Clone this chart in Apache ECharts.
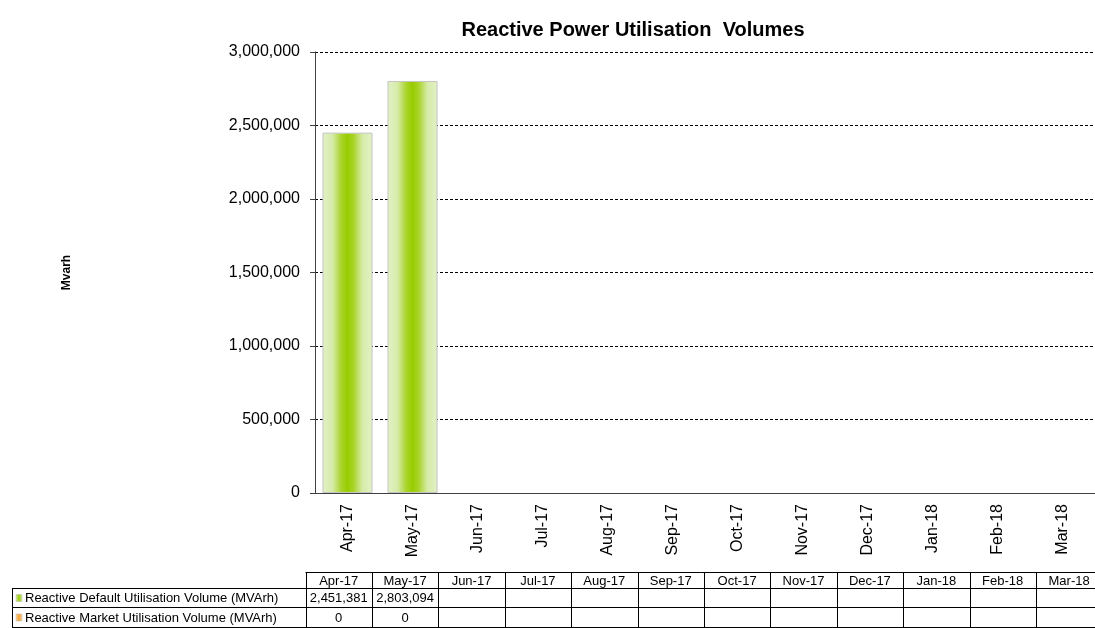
<!DOCTYPE html>
<html>
<head>
<meta http-equiv="Content-Type" content="text/html; charset=utf-8" />
<title>Reactive Power Utilisation Volumes</title>
<style>
  body, html { padding: 0; margin: 0; background: #fff; }
</style>
</head>
<body>
<div id="container" style="width: 1095px; height: 628px"></div>
<script src="https://cdn.jsdelivr.net/npm/echarts@6/dist/echarts.min.js"></script>
<script>
var months = ['Apr-17', 'May-17', 'Jun-17', 'Jul-17', 'Aug-17', 'Sep-17', 'Oct-17', 'Nov-17', 'Dec-17', 'Jan-18', 'Feb-18', 'Mar-18'];
var defaultVolume = [2451381, 2803094, null, null, null, null, null, null, null, null, null, null];
var marketVolume = [0, 0, null, null, null, null, null, null, null, null, null, null];
var seriesNames = ['Reactive Default Utilisation Volume (MVArh)', 'Reactive Market Utilisation Volume (MVArh)'];
var yTicks = [0, 500000, 1000000, 1500000, 2000000, 2500000, 3000000];

var font = '"Liberation Sans", Arial, sans-serif';

function fmt(v) {
  return v == null ? '' : String(v).replace(/\B(?=(\d{3})+(?!\d))/g, ',');
}

// data table under the chart
function buildTable() {
  var els = [];
  var left = 12, colStart = 305.5, colW = 66.4;
  var rowTop = [572, 588, 607, 627];
  var lineStyle = { stroke: '#000', lineWidth: 1 };
  function line(x1, y1, x2, y2) {
    els.push({ type: 'line', shape: { x1: x1, y1: y1, x2: x2, y2: y2 }, style: lineStyle, silent: true });
  }
  function text(x, y, s, align) {
    els.push({ type: 'text', x: x, y: y, style: { text: s, font: '13px ' + font, fill: '#000', align: align, verticalAlign: 'middle' }, silent: true });
  }
  var right = colStart + months.length * colW;
  // horizontal lines
  line(colStart, rowTop[0] + 0.5, right, rowTop[0] + 0.5);
  for (var r = 1; r < rowTop.length; r++) line(left, rowTop[r] + 0.5, right, rowTop[r] + 0.5);
  // vertical lines
  line(left + 0.5, rowTop[1], left + 0.5, rowTop[3]);
  for (var c = 0; c <= months.length; c++) {
    var x = Math.round(colStart + c * colW) + 0.5;
    line(x, rowTop[0], x, rowTop[3]);
  }
  var rows = [defaultVolume, marketVolume];
  for (var c = 0; c < months.length; c++) {
    var cx = colStart + (c + 0.5) * colW;
    text(cx, (rowTop[0] + rowTop[1]) / 2 + 1, months[c], 'center');
    for (var r = 0; r < rows.length; r++) {
      text(cx, (rowTop[r + 1] + rowTop[r + 2]) / 2 + 1, fmt(rows[r][c]), 'center');
    }
  }
  var keyColors = [
    new echarts.graphic.LinearGradient(0, 0, 1, 0, [{ offset: 0, color: '#d8ecb0' }, { offset: 0.5, color: '#99cc00' }, { offset: 1, color: '#d8ecb0' }]),
    new echarts.graphic.LinearGradient(0, 0, 1, 0, [{ offset: 0, color: '#fbd9a8' }, { offset: 0.5, color: '#f5a030' }, { offset: 1, color: '#fbd9a8' }])
  ];
  for (var r = 0; r < seriesNames.length; r++) {
    var cy = (rowTop[r + 1] + rowTop[r + 2]) / 2;
    els.push({ type: 'rect', shape: { x: 16, y: cy - 3, width: 6, height: 7 }, style: { fill: keyColors[r], stroke: '#bbb', lineWidth: 0.5 }, silent: true });
    text(25, cy + 1, seriesNames[r], 'left');
  }
  return els;
}

var chart = echarts.init(document.getElementById('container'));
var barFill = new echarts.graphic.LinearGradient(0, 0, 1, 0, [
  { offset: 0, color: '#e3f1c7' },
  { offset: 0.2, color: '#d6eba8' },
  { offset: 0.38, color: '#a8d428' },
  { offset: 0.5, color: '#99cc00' },
  { offset: 0.62, color: '#a8d428' },
  { offset: 0.8, color: '#d6eba8' },
  { offset: 1, color: '#e3f1c7' }
]);

chart.setOption({
  backgroundColor: '#fff',
  animation: false,
  title: {
    text: 'Reactive Power Utilisation  Volumes',
    left: 628,
    top: 15,
    textAlign: 'center',
    textStyle: { fontFamily: font, fontSize: 20, fontWeight: 'bold', color: '#000' }
  },
  grid: { left: 315, top: 52, right: -10, bottom: 135, containLabel: false },
  xAxis: {
    type: 'category',
    data: months,
    axisLine: { lineStyle: { color: '#404040', width: 1 } },
    axisTick: { length: 5, lineStyle: { color: '#404040' } },
    axisLabel: { rotate: 90, margin: 11, fontFamily: font, fontSize: 16, color: '#000', interval: 0 }
  },
  yAxis: {
    type: 'value',
    min: yTicks[0],
    max: yTicks[yTicks.length - 1],
    interval: yTicks[1] - yTicks[0],
    name: 'Mvarh',
    nameLocation: 'middle',
    nameGap: 242,
    nameRotate: 90,
    nameTextStyle: { fontFamily: font, fontSize: 12, fontWeight: 'bold', color: '#000' },
    axisLine: { show: true, lineStyle: { color: '#404040', width: 1 } },
    axisTick: { show: true, length: 5, lineStyle: { color: '#404040' } },
    axisLabel: { margin: 15, fontFamily: font, fontSize: 16, color: '#000', formatter: fmt },
    splitLine: { show: true, lineStyle: { color: '#000', type: [3, 2], width: 1 } }
  },
  series: [{
    name: seriesNames[0],
    type: 'bar',
    stack: 'vol',
    data: defaultVolume,
    barWidth: '77%',
    itemStyle: { color: barFill, borderColor: '#c4c4c4', borderWidth: 1 }
  }, {
    name: seriesNames[1],
    type: 'bar',
    stack: 'vol',
    data: marketVolume,
    barWidth: '77%',
    itemStyle: { color: '#f5a030' }
  }],
  graphic: buildTable()
});
</script>
</body>
</html>
